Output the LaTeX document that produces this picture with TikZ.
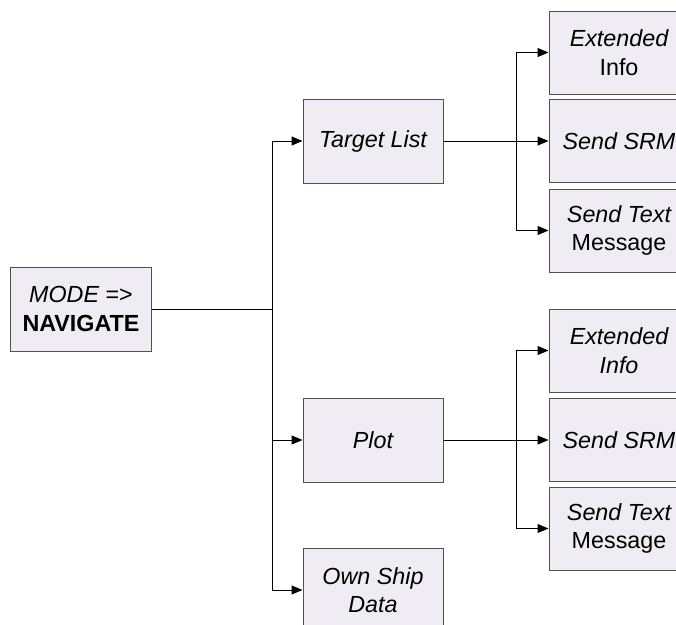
\documentclass[tikz,border=0pt]{standalone}
\usepackage{fontspec}
\setmainfont{Liberation Sans}
\usetikzlibrary{arrows.meta}
\definecolor{boxfill}{RGB}{239,237,243}
\definecolor{boxline}{RGB}{80,80,80}
\tikzset{
  blk/.style={draw=boxline, line width=1pt, fill=boxfill, minimum width=140pt, minimum height=83pt, inner sep=0pt, align=center, font=\fontsize{23.3}{28.5}\selectfont},
  conn/.style={line width=1pt, black},
  arr/.style={conn, -{Triangle[length=11pt,width=9pt]}}
}
\begin{document}
\begin{tikzpicture}[x=1pt,y=-1pt]
\useasboundingbox (0,0) rectangle (676,624);
\clip (0,0) rectangle (676,624);
\node[blk, minimum width=141pt, minimum height=84pt] (mode) at (81,309) {\itshape MODE \upshape=>\\\bfseries NAVIGATE};
\node[blk, minimum height=84pt] (tl) at (373,141) {\itshape Target List};
\node[blk, minimum height=84pt] (plot) at (373,440) {\itshape Plot};
\node[blk, minimum height=84pt] (own) at (373,590) {\itshape Own Ship\\\itshape Data};
\node[blk] (e1) at (619,52.5) {\itshape Extended\\Info};
\node[blk] (s1) at (619,141) {\itshape Send SRM};
\node[blk] (t1) at (619,230.5) {\itshape Send Text\\Message};
\node[blk] (e2) at (619,350.5) {\itshape Extended\\\itshape Info};
\node[blk] (s2) at (619,440) {\itshape Send SRM};
\node[blk] (t2) at (619,528.5) {\itshape Send Text\\Message};
% main branch
\coordinate (m0) at (272,309);
\coordinate (mt) at (272,141);
\coordinate (mp) at (272,440);
\coordinate (mo) at (272,590);
\draw[conn] (mode.east) -- (m0);
\draw[conn] (mt) -- (mo);
\draw[arr] (mt) -- (tl.west);
\draw[arr] (mp) -- (plot.west);
\draw[arr] (mo) -- (own.west);
% target list branch
\coordinate (a1) at (516,52.5);
\coordinate (a2) at (516,141);
\coordinate (a3) at (516,230.5);
\draw[conn] (tl.east) -- (a2);
\draw[conn] (a1) -- (a3);
\draw[arr] (a1) -- (e1.west);
\draw[arr] (a2) -- (s1.west);
\draw[arr] (a3) -- (t1.west);
% plot branch
\coordinate (b1) at (516,350.5);
\coordinate (b2) at (516,440);
\coordinate (b3) at (516,528.5);
\draw[conn] (plot.east) -- (b2);
\draw[conn] (b1) -- (b3);
\draw[arr] (b1) -- (e2.west);
\draw[arr] (b2) -- (s2.west);
\draw[arr] (b3) -- (t2.west);
\end{tikzpicture}
\end{document}
